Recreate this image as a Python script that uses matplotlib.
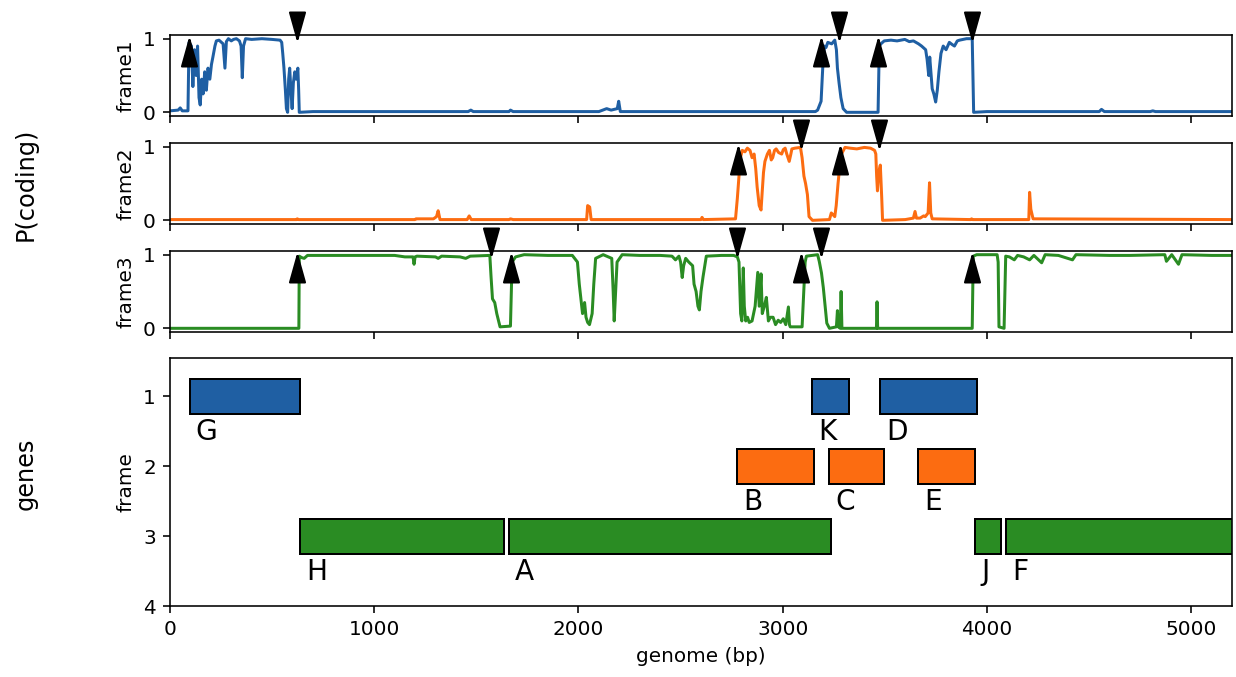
import matplotlib
matplotlib.use("Agg")
import matplotlib.pyplot as plt
from matplotlib.path import Path

# ---- data ----
genome_len = 5200
frame_colors = ['#1f5fa3', '#fc6c11', '#2a8c23']

# P(coding) traces, breakpoints (bp, probability)
f1_pos = [0, 40, 50, 60, 88, 93, 105, 112, 120, 128, 135, 142, 148, 155, 162, 170, 178, 186,
          195, 203, 210, 220, 227, 240, 252, 260, 269, 276, 286, 300, 311, 325, 340, 348, 354,
          360, 370, 400, 450, 500, 539, 547, 552, 558, 565, 570, 576, 581, 586, 592, 598, 604,
          611, 618, 626, 630, 633, 700, 1460, 1473, 1485, 1660, 1667, 1680, 2100, 2138, 2160,
          2190, 2197, 2205, 3160, 3171, 3188, 3196, 3204, 3212, 3221, 3240, 3255, 3263, 3268,
          3276, 3285, 3296, 3313, 3467, 3473, 3481, 3497, 3530, 3560, 3598, 3620, 3640, 3665,
          3680, 3700, 3707, 3715, 3720, 3732, 3740, 3749, 3757, 3765, 3775, 3786, 3800, 3816,
          3830, 3841, 3855, 3866, 3900, 3928, 3935, 4000, 4550, 4561, 4575, 4800, 4812, 4825, 5200]
f1_val = [0.02, 0.03, 0.06, 0.02, 0.02, 0.95, 0.9, 0.35, 0.85, 0.5, 0.9, 0.2, 0.1, 0.45, 0.25,
          0.55, 0.3, 0.6, 0.45, 0.65, 0.75, 0.9, 0.97, 0.98, 0.95, 0.93, 0.6, 0.96, 1.0, 0.97,
          0.99, 1.0, 0.97, 0.9, 0.47, 0.9, 1.0, 0.99, 1.0, 0.99, 0.98, 0.95, 0.8, 0.6, 0.3, 0.05,
          0.0, 0.45, 0.6, 0.3, 0.05, 0.4, 0.55, 0.45, 0.6, 0.3, 0.0, 0.01, 0.01, 0.03, 0.01, 0.01,
          0.03, 0.01, 0.01, 0.05, 0.03, 0.05, 0.15, 0.01, 0.01, 0.03, 0.15, 0.6, 0.9, 0.88, 0.95,
          0.93, 0.98, 0.85, 0.6, 0.4, 0.2, 0.05, 0.0, 0.0, 0.9, 0.93, 0.97, 0.98, 0.97, 0.99,
          0.96, 0.97, 0.93, 0.9, 0.85, 0.72, 0.5, 0.75, 0.32, 0.25, 0.14, 0.3, 0.55, 0.8, 0.9,
          0.85, 0.95, 0.92, 0.9, 0.97, 0.98, 1.0, 1.0, 0.0, 0.01, 0.01, 0.04, 0.01, 0.01, 0.02,
          0.01, 0.01]

f2_pos = [0, 620, 623, 630, 1200, 1204, 1290, 1305, 1313, 1322, 1455, 1465, 1475, 1660, 1667,
          1680, 2040, 2045, 2055, 2062, 2600, 2605, 2612, 2769, 2778, 2786, 2793, 2802, 2815,
          2827, 2840, 2850, 2860, 2868, 2875, 2885, 2894, 2900, 2906, 2913, 2925, 2935, 2944,
          2951, 2960, 2968, 2980, 2995, 3003, 3012, 3020, 3032, 3040, 3045, 3060, 3087, 3095,
          3104, 3112, 3121, 3129, 3146, 3229, 3238, 3245, 3255, 3262, 3271, 3280, 3288, 3305,
          3330, 3363, 3400, 3430, 3450, 3456, 3460, 3464, 3470, 3478, 3485, 3489, 3600, 3640,
          3648, 3655, 3673, 3690, 3698, 3712, 3719, 3725, 3732, 3920, 3925, 3930, 4085, 4205,
          4209, 4215, 4226, 5200]
f2_val = [0.01, 0.01, 0.02, 0.01, 0.01, 0.02, 0.02, 0.05, 0.13, 0.01, 0.01, 0.06, 0.01, 0.01,
          0.02, 0.01, 0.01, 0.2, 0.18, 0.01, 0.01, 0.04, 0.01, 0.02, 0.3, 0.6, 0.85, 0.95, 0.93,
          0.98, 0.95, 0.85, 0.9, 0.7, 0.45, 0.2, 0.14, 0.4, 0.65, 0.8, 0.9, 0.95, 0.82, 0.85,
          0.95, 0.97, 0.92, 0.9, 0.96, 0.98, 0.9, 0.8, 0.9, 0.97, 0.98, 0.99, 0.85, 0.6, 0.5,
          0.35, 0.05, 0.0, 0.01, 0.1, 0.08, 0.05, 0.2, 0.5, 0.75, 0.9, 0.99, 0.98, 0.97, 0.99,
          0.98, 0.95, 0.9, 0.6, 0.4, 0.65, 0.75, 0.3, 0.0, 0.01, 0.03, 0.12, 0.03, 0.03, 0.06,
          0.05, 0.1, 0.51, 0.1, 0.02, 0.01, 0.02, 0.01, 0.01, 0.01, 0.38, 0.15, 0.02, 0.01]

f3_pos = [0, 631, 633, 645, 657, 673, 800, 960, 1100, 1150, 1190, 1195, 1200, 1209, 1300, 1313,
          1330, 1420, 1448, 1470, 1566, 1572, 1579, 1590, 1600, 1608, 1616, 1667, 1675, 1692,
          1734, 1850, 1970, 1995, 2004, 2012, 2020, 2030, 2037, 2045, 2054, 2060, 2067, 2075,
          2084, 2121, 2163, 2170, 2175, 2182, 2189, 2214, 2300, 2400, 2458, 2475, 2492, 2500,
          2508, 2515, 2525, 2540, 2559, 2566, 2576, 2585, 2592, 2600, 2610, 2626, 2700, 2760,
          2778, 2786, 2794, 2800, 2807, 2812, 2819, 2828, 2836, 2850, 2865, 2878, 2885, 2894,
          2900, 2910, 2920, 2930, 2940, 2953, 2965, 2978, 2990, 3003, 3015, 3028, 3033, 3037,
          3095, 3104, 3110, 3116, 3171, 3179, 3190, 3199, 3208, 3216, 3229, 3263, 3268, 3272,
          3282, 3286, 3290, 3459, 3462, 3465, 3928, 3933, 3950, 4050, 4055, 4059, 4084, 4092,
          4110, 4134, 4150, 4180, 4209, 4230, 4268, 4285, 4350, 4419, 4436, 4600, 4700, 4871,
          4879, 4905, 4938, 4955, 5100, 5200]
f3_val = [0.0, 0.0, 0.98, 0.96, 0.95, 0.99, 0.99, 0.99, 0.99, 0.97, 0.97, 0.87, 0.97, 0.98, 0.97,
          0.95, 0.98, 0.97, 0.95, 0.98, 0.99, 0.7, 0.4, 0.35, 0.2, 0.11, 0.02, 0.03, 0.9, 0.97,
          1.0, 0.99, 0.99, 0.9, 0.6, 0.4, 0.2, 0.35, 0.15, 0.08, 0.05, 0.12, 0.2, 0.6, 0.95, 1.0,
          0.95, 0.5, 0.1, 0.5, 0.9, 1.0, 0.99, 0.99, 0.98, 0.93, 0.98, 0.9, 0.69, 0.85, 0.95,
          0.9, 0.85, 0.6, 0.5, 0.3, 0.25, 0.5, 0.7, 0.98, 0.99, 0.99, 0.97, 0.9, 0.2, 0.1, 0.82,
          0.3, 0.1, 0.15, 0.08, 0.1, 0.3, 0.76, 0.3, 0.74, 0.2, 0.3, 0.42, 0.1, 0.15, 0.15, 0.05,
          0.11, 0.08, 0.13, 0.05, 0.29, 0.05, 0.02, 0.02, 0.55, 0.9, 0.98, 1.0, 0.91, 0.75, 0.55,
          0.3, 0.07, 0.0, 0.02, 0.24, 0.02, 0.0, 0.5, 0.0, 0.0, 0.36, 0.0, 0.0, 0.98, 1.0, 1.0,
          0.9, 0.02, 0.0, 0.98, 0.97, 0.93, 0.99, 0.97, 0.93, 0.99, 0.89, 1.0, 0.99, 0.93, 1.0,
          0.99, 0.99, 1.0, 0.91, 1.0, 0.87, 1.0, 0.99, 0.99]

# predicted gene starts (up arrows) and ends (down arrows) per frame
starts = [[93, 3188, 3467], [2781, 3280], [623, 1670, 3092, 3928]]
ends = [[623, 3276, 3928], [3092, 3472], [1574, 2778, 3188]]

# annotated genes
gene_names = ['G', 'H', 'A', 'K', 'D', 'B', 'C', 'E', 'J', 'F']
gene_frame = [1, 3, 3, 1, 1, 2, 2, 2, 3, 3]
gene_start = [96, 635, 1658, 3142, 3477, 2777, 3226, 3662, 3941, 4092]
gene_end = [636, 1633, 3238, 3323, 3951, 3154, 3494, 3943, 4067, 5400]

traces = [(f1_pos, f1_val), (f2_pos, f2_val), (f3_pos, f3_val)]

# ---- figure ----
fig = plt.figure(figsize=(1236 / 144, 677 / 144), dpi=144)
left, width = 170 / 1236, 1062 / 1236
panel_tops = [35, 143, 251]
panel_h = 81

# arrow-head markers, tip sits on the data point
up_head = Path([(0, 0), (-0.28, -1), (0.28, -1), (0, 0)])
down_head = Path([(0, 0), (-0.28, 1), (0.28, 1), (0, 0)])

axes = []
for i, (pos, val) in enumerate(traces):
    top = panel_tops[i]
    ax = fig.add_axes([left, 1 - (top + panel_h) / 677, width, panel_h / 677])
    ax.plot(pos, val, color=frame_colors[i], lw=1.5)
    ax.plot(starts[i], [1] * len(starts[i]), ls='none', marker=up_head, ms=27,
            color='black', clip_on=False, zorder=5)
    ax.plot(ends[i], [1] * len(ends[i]), ls='none', marker=down_head, ms=27,
            color='black', clip_on=False, zorder=5)
    ax.set_xlim(0, genome_len)
    ax.set_ylim(-0.05, 1.05)
    ax.set_yticks([0, 1])
    ax.set_ylabel(f'frame{i + 1}')
    ax.tick_params(axis='x', labelbottom=False)
    axes.append(ax)

# gene map
axg = fig.add_axes([left, 1 - 606 / 677, width, 248 / 677])
for name, fr, s, e in zip(gene_names, gene_frame, gene_start, gene_end):
    axg.barh(fr, e - s, left=s, height=0.5, color=frame_colors[fr - 1],
             edgecolor='black', linewidth=1)
    axg.text(s + 30, fr + 0.31, name, ha='left', va='top', fontsize=14)
axg.set_xlim(0, genome_len)
axg.set_ylim(4, 0.45)
axg.set_yticks([1, 2, 3, 4])
axg.set_ylabel('frame')
axg.set_xlabel('genome (bp)')

fig.text(0.021, 1 - 184 / 677, 'P(coding)', rotation=90, ha='center', va='center', fontsize=12)
fig.text(0.021, 1 - 474 / 677, 'genes', rotation=90, ha='center', va='center', fontsize=12)

fig.savefig('out.png', dpi=144)
